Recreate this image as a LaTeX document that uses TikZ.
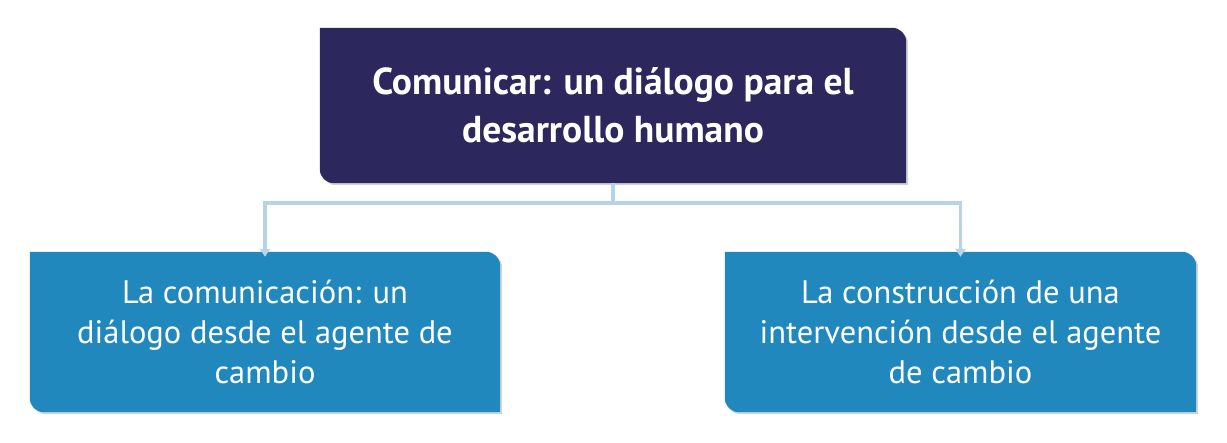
\documentclass[tikz,border=0pt]{standalone}
\usepackage{fontspec}
\setmainfont{PT Sans}
\usetikzlibrary{shadows,arrows.meta}
\definecolor{navy}{HTML}{2C275C}
\definecolor{teal}{HTML}{2088BC}
\definecolor{conn}{HTML}{B6D3EA}
\tikzset{
  box/.style={minimum height=#1, align=center, text=white, inner sep=0pt},
  conn/.style={draw=conn, line width=3.5pt, -{Triangle[width=10pt,length=8pt]}},
  shad/.style={drop shadow={shadow xshift=2pt, shadow yshift=-2pt, opacity=0.35}},
}
\begin{document}
\begin{tikzpicture}[x=1pt,y=-1pt]
\useasboundingbox (0,0) rectangle (1227,443);
\node[box=155pt, minimum width=586pt] (top) at (613,105.5) {};
\node[box=160pt, minimum width=470pt] (l) at (265,332) {};
\node[box=160pt, minimum width=471pt] (r) at (960.5,332) {};
\fill[navy, shad]
  (top.north west) -- ([xshift=-14pt]top.north east) arc[start angle=90,end angle=0,radius=14pt] -- (top.south east) -- ([xshift=14pt]top.south west) arc[start angle=270,end angle=180,radius=14pt] -- cycle;
\fill[teal, shad]
  (l.north west) -- ([xshift=-14pt]l.north east) arc[start angle=90,end angle=0,radius=14pt] -- (l.south east) -- ([xshift=14pt]l.south west) arc[start angle=270,end angle=180,radius=14pt] -- cycle;
\fill[teal, shad]
  (r.north west) -- ([xshift=-14pt]r.north east) arc[start angle=90,end angle=0,radius=14pt] -- (r.south east) -- ([xshift=14pt]r.south west) arc[start angle=270,end angle=180,radius=14pt] -- cycle;
\node[text=white, align=center, font=\fontsize{37.5pt}{48pt}\selectfont\bfseries] at (top) {Comunicar: un diálogo para el\\desarrollo humano};
\node[text=white, align=center, font=\fontsize{32.5pt}{40pt}\selectfont] at (l) {La comunicación: un\\diálogo desde el agente de\\cambio};
\node[text=white, align=center, font=\fontsize{32.5pt}{40pt}\selectfont] at (r) {La construcción de una\\intervención desde el agente\\de cambio};
\coordinate (j) at (top.south |- 0,203);
\draw[conn] (top.south) -- (j) -| ([yshift=-5pt]l.north);
\draw[conn] (j) -| ([yshift=-5pt]r.north);
\end{tikzpicture}
\end{document}
